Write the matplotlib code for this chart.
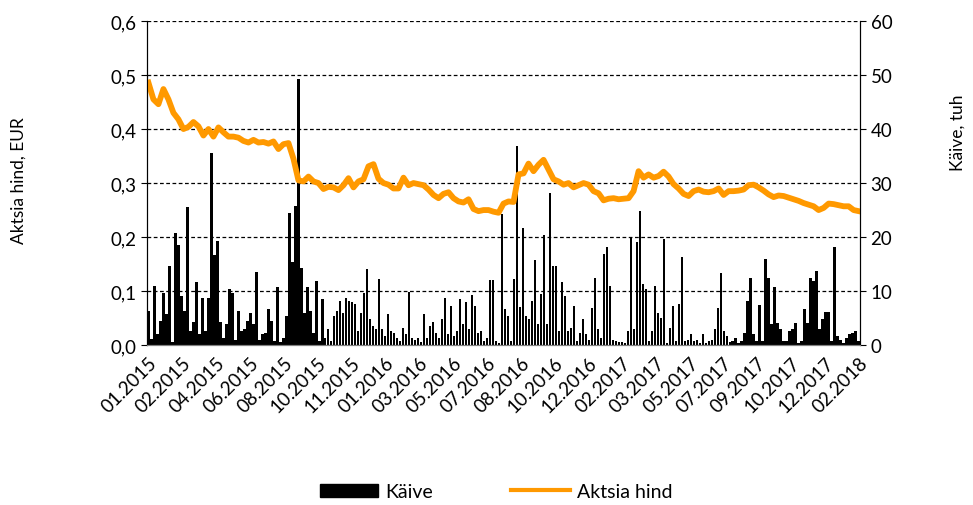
import numpy as np
import matplotlib
matplotlib.use('Agg')
import matplotlib.pyplot as plt
from matplotlib.lines import Line2D
from matplotlib.patches import Patch

# Aktsia hind (EUR), loetud graafikult ühtlase sammuga
price = [
    0.486, 0.455, 0.446, 0.474, 0.455, 0.430, 0.418, 0.400, 0.404, 0.413,
    0.405, 0.388, 0.400, 0.386, 0.403, 0.394, 0.386, 0.386, 0.384, 0.378,
    0.375, 0.380, 0.375, 0.376, 0.373, 0.377, 0.363, 0.372, 0.374, 0.345,
    0.305, 0.303, 0.312, 0.303, 0.300, 0.289, 0.293, 0.292, 0.287, 0.296,
    0.309, 0.292, 0.303, 0.307, 0.331, 0.335, 0.308, 0.300, 0.297,
    0.290, 0.290, 0.310, 0.296, 0.300, 0.298, 0.296, 0.288, 0.278, 0.272,
    0.280, 0.283, 0.272, 0.266, 0.264, 0.270, 0.252, 0.248, 0.250, 0.250,
    0.247, 0.245, 0.262, 0.266, 0.265, 0.316, 0.318, 0.336, 0.322, 0.334,
    0.343, 0.325, 0.307, 0.303, 0.297, 0.300, 0.292, 0.296, 0.300, 0.297,
    0.285, 0.281, 0.268, 0.271, 0.272, 0.270, 0.271,
    0.272, 0.285, 0.322, 0.310, 0.316, 0.310, 0.313, 0.321, 0.312, 0.298,
    0.290, 0.280, 0.276, 0.285, 0.288, 0.284, 0.283, 0.285, 0.290, 0.278,
    0.285, 0.285, 0.286, 0.288, 0.296, 0.297, 0.292, 0.286, 0.279, 0.274,
    0.277, 0.276, 0.273, 0.270, 0.267, 0.263, 0.260, 0.257, 0.250, 0.254,
    0.262, 0.261, 0.259, 0.257, 0.257, 0.250, 0.248,
]

# Käive (tuh)
volume = [
    6.3, 1.2, 11.0, 2.0, 4.5, 9.7, 5.8, 14.6, 0.5, 20.7,
    18.6, 9.0, 6.3, 25.5, 2.6, 4.3, 11.6, 2.0, 8.8, 2.6,
    8.8, 35.5, 16.6, 19.2, 4.2, 1.4, 3.9, 10.4, 9.7, 1.0,
    6.3, 2.6, 2.9, 4.5, 5.9, 3.9, 13.6, 1.0, 2.0, 2.3,
    6.6, 4.5, 0.7, 10.7, 0.5, 1.4, 5.4, 24.5, 15.3, 25.7,
    49.3, 14.2, 6.0, 10.7, 6.3, 2.3, 11.9, 0.7, 8.5, 1.4,
    2.9, 0.7, 5.4, 6.3, 8.2, 6.0, 8.8, 8.2, 7.9, 7.6,
    2.6, 6.0, 9.7, 14.0, 4.8, 3.5, 2.9, 12.2, 2.9, 1.7,
    5.7, 2.6, 2.3, 1.4, 0.7, 3.2, 2.0, 9.9, 1.4, 1.0,
    1.4, 0.5, 5.7, 1.4, 3.5, 4.2, 2.3, 1.4, 4.9, 8.8,
    2.0, 7.3, 1.7, 2.6, 8.5, 3.9, 7.9, 2.9, 9.3, 7.3,
    2.3, 2.6, 0.7, 1.4, 12.1, 12.1, 0.7, 0.4, 24.3, 6.6,
    5.4, 0.7, 12.2, 36.8, 7.0, 21.7, 5.4, 4.8, 8.2, 15.7,
    3.9, 9.4, 20.4, 3.9, 28.1, 14.7, 14.7, 2.6, 11.6, 9.1,
    2.6, 3.2, 7.3, 0.7, 2.3, 4.8, 2.0, 1.0, 6.8, 12.5,
    2.9, 1.4, 16.9, 18.1, 11.0, 1.0, 0.7, 0.5, 0.5, 0.4,
    2.6, 20.0, 2.9, 19.1, 24.8, 11.3, 10.4, 0.7, 2.6, 11.0,
    6.0, 5.1, 19.6, 0.4, 3.2, 7.3, 0.7, 7.6, 16.3, 0.7,
    1.0, 2.0, 0.7, 1.0, 0.3, 2.0, 0.4, 0.7, 1.0, 2.9,
    6.8, 13.4, 2.6, 1.7, 0.5, 0.7, 1.4, 0.4, 0.7, 2.3,
    8.2, 12.4, 2.0, 0.7, 7.4, 0.7, 16.0, 12.4, 3.9, 10.7,
    4.0, 2.9, 0.7, 0.7, 2.6, 2.9, 4.0, 0.4, 0.7, 6.6,
    4.0, 12.4, 11.9, 13.8, 2.9, 4.8, 6.1, 6.1, 0.7, 18.1,
    1.7, 1.0, 0.4, 1.4, 2.0, 2.3, 2.6, 0.7,
]

month_labels = [
    '01.2015', '02.2015', '04.2015', '06.2015', '08.2015', '10.2015',
    '11.2015', '01.2016', '03.2016', '05.2016', '07.2016', '08.2016',
    '10.2016', '12.2016', '02.2017', '03.2017', '05.2017', '07.2017',
    '09.2017', '10.2017', '12.2017', '02.2018',
]

plt.rcParams['font.family'] = ['Lato', 'DejaVu Sans']

fig = plt.figure(figsize=(9.73, 5.06), dpi=100)
ax = fig.add_axes([0.151, 0.316, 0.733, 0.6405])
ax_vol = ax.twinx()

n = len(volume)
x_vol = np.arange(n)
x_price = np.linspace(0, n - 1, len(price))

# käive tulpadena parempoolsel teljel
ax_vol.bar(x_vol, volume, width=0.85, color='black', zorder=2)
ax_vol.set_ylim(0, 60)
ax_vol.set_yticks(range(0, 61, 10))
ax_vol.yaxis.grid(True, linestyle=(0, (3, 2)), color='black', linewidth=0.9)
ax_vol.set_axisbelow(True)

# hind joonena vasakpoolsel teljel, tulpade peal
ax.set_zorder(ax_vol.get_zorder() + 1)
ax.patch.set_visible(False)
ax.plot(x_price, price, color='#FF9900', linewidth=4.2, solid_joinstyle='round')
ax.set_ylim(0, 0.6)
ax.set_yticks(np.arange(0, 0.61, 0.1))
ax.set_yticklabels([f'{v:.1f}'.replace('.', ',') for v in np.arange(0, 0.61, 0.1)])
ax.set_xlim(-0.5, n - 0.5)

ax.set_xticks(np.linspace(0, n - 1, len(month_labels)))
ax.set_xticklabels(month_labels, rotation=45, ha='right', rotation_mode='anchor')
ax.tick_params(axis='x', length=0, pad=6, labelsize=13.5)
ax.tick_params(axis='y', labelsize=13.5, length=4, color='black')
ax_vol.tick_params(axis='y', labelsize=13.5, length=4, color='black')

for a in (ax, ax_vol):
    a.spines['top'].set_visible(False)
    a.spines['left'].set_color('black')
    a.spines['right'].set_color('black')
    a.spines['bottom'].set_color('#808080')

ax.set_ylabel('Aktsia hind, EUR', fontsize=12.5)
ax.yaxis.set_label_coords(-0.168, 0.51)
ax_vol.set_ylabel('Käive, tuh', fontsize=12.5)
ax_vol.yaxis.set_label_coords(1.126, 0.657)

handles = [Patch(facecolor='black', edgecolor='black'),
           Line2D([0], [0], color='#FF9900', linewidth=3)]
fig.legend(handles, ['Käive', 'Aktsia hind'], loc='lower center',
           bbox_to_anchor=(0.51, -0.025), ncol=2, frameon=False,
           fontsize=14, handlelength=3, columnspacing=4, handletextpad=0.4)

fig.savefig('out.png', dpi=100)
